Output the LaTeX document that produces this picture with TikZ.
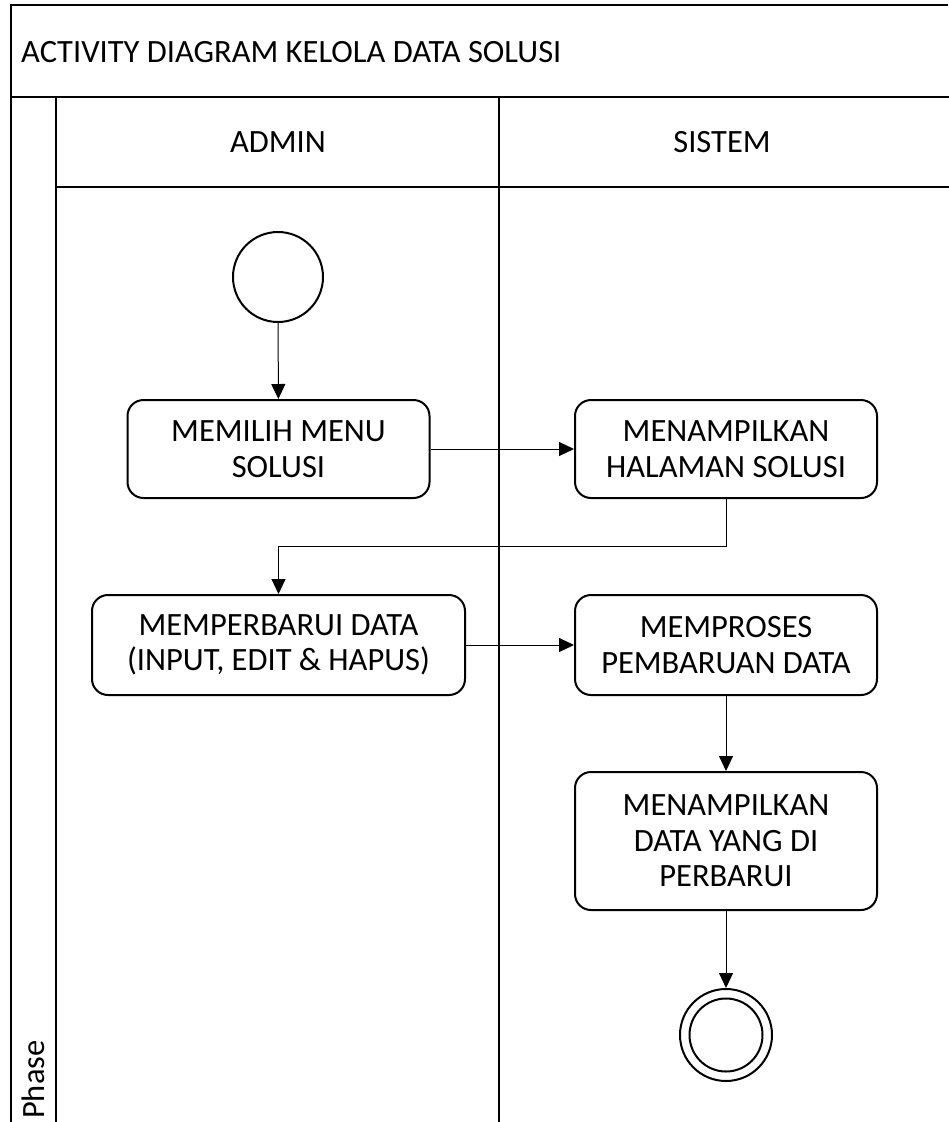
\documentclass[tikz,border=0pt]{standalone}
\usepackage{fontspec}
\setmainfont{Carlito}
\usetikzlibrary{arrows.meta}
\begin{document}
\begin{tikzpicture}[x=1pt,y=1pt,
  lane/.style={line width=2.5pt},
  actbox/.style={draw, line width=2pt, rounded corners=16pt, align=center, inner sep=0pt,
    font=\fontsize{32.5}{35.5}\selectfont},
  lbl/.style={font=\fontsize{32.5}{35.5}\selectfont, inner sep=0pt},
  arr/.style={line width=1pt, -{Triangle[length=15pt,width=14pt]}},
  startnode/.style={draw, circle, line width=2pt, minimum size=90pt, inner sep=0pt},
]
\useasboundingbox (0,0) rectangle (948,-1122);
\fill[white] (0,0) rectangle (948,-1122);
% frame and swimlanes
\draw[lane] (948,-5) -- (11,-5) -- (11,-1130);
\draw[lane] (11,-97) -- (960,-97);
\draw[lane] (56,-97) -- (56,-1130);
\draw[lane] (56,-187) -- (960,-187);
\draw[lane] (499,-97) -- (499,-1130);
% labels
\node[lbl, anchor=west] (title) at (21,-52) {ACTIVITY DIAGRAM KELOLA DATA SOLUSI};
\node[lbl] (admin) at (278,-142) {ADMIN};
\node[lbl] (sistem) at (722,-142) {SISTEM};
\node[lbl, rotate=90, anchor=west] (phase) at (33.5,-1119) {Phase};
% nodes
\node[startnode] (start) at (278,-277) {};
\node[actbox, minimum width=302pt, minimum height=98pt] (b1) at (278.5,-449) {MEMILIH MENU\\SOLUSI};
\node[actbox, minimum width=302pt, minimum height=98pt] (b2) at (726,-449) {MENAMPILKAN\\HALAMAN SOLUSI};
\node[actbox, minimum width=373pt, minimum height=100pt] (b3) at (278.5,-645) {MEMPERBARUI DATA\\(INPUT, EDIT \& HAPUS)};
\node[actbox, minimum width=302pt, minimum height=100pt] (b4) at (726,-645) {MEMPROSES\\PEMBARUAN DATA};
\node[actbox, minimum width=302pt, minimum height=138pt] (b5) at (726,-841) {MENAMPILKAN\\DATA YANG DI\\PERBARUI};
\node[draw, circle, line width=2pt, minimum size=92pt, inner sep=0pt] (end) at (726,-1035) {};
\node[draw, circle, line width=2pt, minimum size=73pt, inner sep=0pt] (endin) at (end.center) {};
% connectors
\coordinate (k) at (726,-546);
\draw[arr] (start) -- (b1);
\draw[arr] (b1) -- (b2);
\draw[arr] (b2.south) -- (k) -| (b3.north);
\draw[arr] (b3) -- (b4);
\draw[arr] (b4) -- (b5);
\draw[arr] (b5) -- (end);
\end{tikzpicture}
\end{document}
